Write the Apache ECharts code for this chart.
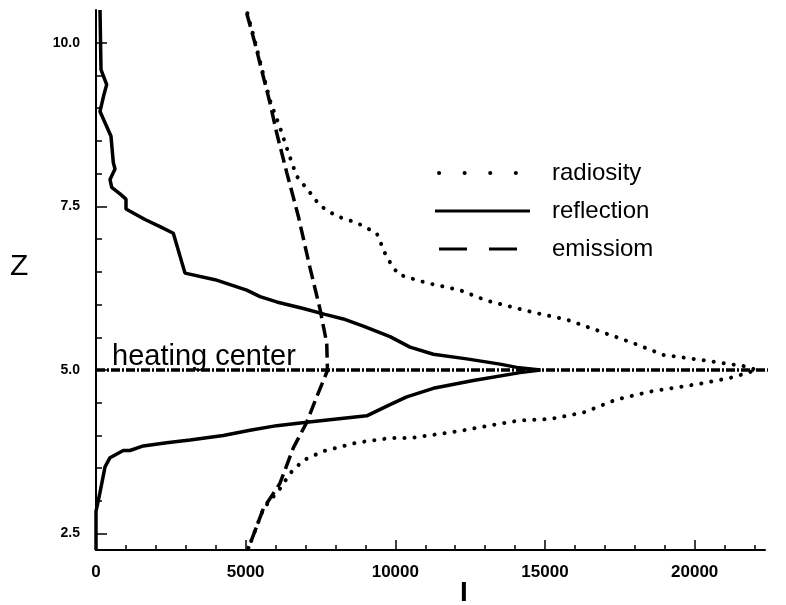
<!DOCTYPE html>
<html>
<head>
<meta charset="utf-8">
<script src="https://cdn.jsdelivr.net/npm/echarts@6/dist/echarts.min.js"></script>
<style>
html,body{margin:0;padding:0;background:#fff;}
#chart{width:786px;height:605px;}
</style>
</head>
<body>
<div id="chart"></div>
<script>
//曲线数据 [I, Z]，从上往下读
var reflection = [
	[134,10.50],[167,9.59],[357,9.36],[267,9.21],[134,8.95],[357,8.72],[501,8.57],[578,8.17],
	[635,8.07],[468,7.91],[525,7.79],[802,7.69],[1002,7.61],[1002,7.46],[1637,7.30],[2138,7.19],
	[2583,7.09],[2973,6.48],[3976,6.38],[5035,6.22],[5480,6.12],[6037,6.04],[6926,5.94],[7651,5.85],
	[8262,5.78],[8930,5.67],[9823,5.51],[10491,5.35],[11269,5.24],[12385,5.17],[13498,5.09],[14056,5.04],
	[14850,5.00],
	[14166,4.96],[12606,4.84],[11269,4.72],[10381,4.59],[9823,4.47],[9044,4.30],[8042,4.25],[7040,4.20],
	[6037,4.15],[5145,4.08],[4253,4.00],[3141,3.93],[2362,3.89],[1580,3.84],[1136,3.77],[912,3.77],
	[468,3.66],[301,3.52],[134,3.13],[0,2.84],[0,2.25]
];
var emission = [
	[5035,10.45],[5312,9.99],[5590,9.48],[5813,9.08],[6037,8.62],[6371,8.02],[6759,7.35],[7150,6.56],
	[7484,5.93],[7708,5.41],[7730,5.04],[7740,5.00],
	[7373,4.59],[7040,4.20],[6592,3.81],[6147,3.27],[5590,2.88],[5145,2.34],[5060,2.25]
];
var radiosity = [
	[5060,10.45],[5330,9.99],[5610,9.48],[5840,9.08],[6150,8.70],[6425,8.32],[6706,7.96],[7150,7.71],
	[7484,7.51],[8042,7.35],[8710,7.25],[9378,7.09],[9712,6.72],[10100,6.46],[11049,6.33],[12161,6.22],
	[13053,6.06],[14610,5.88],[15726,5.77],[16839,5.59],[17951,5.41],[18954,5.23],[19956,5.17],[20737,5.12],
	[21626,5.06],[22074,5.00],
	[21293,4.89],[20179,4.79],[18509,4.67],[17397,4.55],[16281,4.35],[15168,4.25],[14166,4.23],[13498,4.18],
	[12051,4.06],[10491,3.96],[9823,3.96],[8710,3.89],[7594,3.76],[6926,3.62],[6481,3.42],[6204,3.22],
	[5590,2.88],[5145,2.34],[5060,2.25]
];
var heatingZ = 5.0;
var heatingRange = [0, 23000];
//刻度
var xTicks = [0,1000,2000,3000,4000,5000,6000,7000,8000,9000,10000,11000,12000,13000,14000,15000,16000,17000,18000,19000,20000,21000,22000];
var xLabels = [0,5000,10000,15000,20000];
var yTicks = [2.5,3.0,3.5,4.0,4.5,5.0,5.5,6.0,6.5,7.0,7.5,8.0,8.5,9.0,9.5,10.0];
var yLabels = [2.5,5.0,7.5,10.0];

var font = '"Liberation Sans", Arial, Helvetica, sans-serif';
var ink = '#000';
var hide = 'rgba(0,0,0,0)';

var chart = echarts.init(document.getElementById('chart'));
var option = {
	backgroundColor:'#fff',
	animation:false,
	grid:{left:96,right:21,top:10,bottom:55},
	legend:{
		orient:'vertical',left:428,top:156,
		itemWidth:95,itemHeight:24,itemGap:14,
		textStyle:{fontFamily:font,fontSize:24,color:ink,lineHeight:24,padding:[0,0,0,17]},
		data:[
			{name:'radiosity',itemStyle:{color:hide,borderColor:hide,borderWidth:0},lineStyle:{type:[0.1,25.5],width:4,cap:'round',dashOffset:-4}},
			{name:'reflection',itemStyle:{color:hide,borderColor:hide,borderWidth:0},lineStyle:{type:'solid',width:3}},
			{name:'emissiom',itemStyle:{color:hide,borderColor:hide,borderWidth:0},lineStyle:{type:[28,22],width:3}}
		]
	},
	xAxis:[{
		type:'value',min:0,max:22350,position:'bottom',
		axisLine:{lineStyle:{color:ink,width:2}},
		axisTick:{inside:true,length:5,lineStyle:{color:ink,width:1.5},customValues:xTicks},
		axisLabel:{margin:14,color:ink,fontFamily:font,fontSize:17,fontWeight:'bold',customValues:xLabels,
			formatter:function(v){return String(v);}},
		splitLine:{show:false}
	},{
		type:'value',min:0,max:22350,position:'bottom',
		axisLine:{show:false},
		axisTick:{inside:true,length:10,lineStyle:{color:ink,width:1.5},customValues:xLabels},
		axisLabel:{show:false},
		splitLine:{show:false}
	}],
	yAxis:[{
		type:'value',min:2.25,max:10.5,position:'left',
		axisLine:{show:true,lineStyle:{color:ink,width:2}},
		axisTick:{show:true,inside:true,length:6,lineStyle:{color:ink,width:1.5},customValues:yTicks},
		axisLabel:{margin:16,color:ink,fontFamily:font,fontSize:14,fontWeight:'bold',customValues:yLabels,
			formatter:function(v){return v.toFixed(1);}},
		splitLine:{show:false}
	},{
		type:'value',min:2.25,max:10.5,position:'left',
		axisLine:{show:false},
		axisTick:{show:true,inside:true,length:11,lineStyle:{color:ink,width:1.5},customValues:yLabels},
		axisLabel:{show:false},
		splitLine:{show:false}
	}],
	graphic:[
		{type:'text',left:10,top:252,style:{text:'Z',fontFamily:font,fontSize:30,fill:ink}},
		{type:'text',left:460,top:579,style:{text:'I',fontFamily:font,fontSize:28,fontWeight:'bold',fill:ink}}
	],
	series:[{
		name:'radiosity',type:'line',symbol:'none',data:radiosity,
		lineStyle:{color:ink,width:4,type:[0.1,10],cap:'round'},itemStyle:{color:ink}
	},{
		name:'reflection',type:'line',symbol:'none',data:reflection,
		lineStyle:{color:ink,width:3.5,type:'solid'},itemStyle:{color:ink}
	},{
		name:'emissiom',type:'line',symbol:'none',data:emission,
		lineStyle:{color:ink,width:3.5,type:[14,6]},itemStyle:{color:ink}
	},{
		name:'heating center',type:'line',symbol:'none',clip:false,
		data:[[heatingRange[0],heatingZ],[heatingRange[1],heatingZ]],
		lineStyle:{color:ink,width:3.5,type:[9,2,2,2]},itemStyle:{color:ink},
		markPoint:{
			symbol:'circle',symbolSize:1,itemStyle:{color:hide},
			label:{show:true,position:'top',align:'left',distance:0,offset:[16,2],
				formatter:'heating center',fontFamily:font,fontSize:29,color:ink},
			data:[{coord:[heatingRange[0],heatingZ]}]
		}
	}]
};
chart.setOption(option);
</script>
</body>
</html>
